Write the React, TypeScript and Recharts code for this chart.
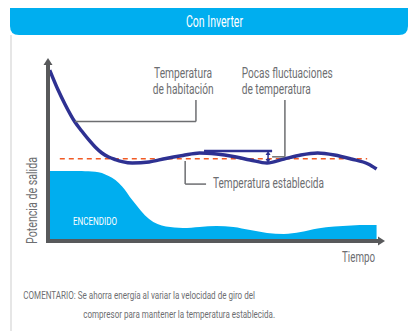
import { ComposedChart, Area, Line, XAxis, YAxis, ReferenceLine } from "recharts";

// time runs 0..100 across the plot, values are 0..100 of the plot height
const time = [0.5, 3, 5, 8, 10, 12, 14, 16, 18, 20, 22, 25, 30, 35, 40, 45, 50, 55, 60, 65, 70, 75, 80, 85, 90, 95, 97.5];
const roomTemp = [93.4, 82.5, 74.9, 65.0, 60.1, 55.5, 51.4, 48.1, 45.9, 44.5, 43.4, 42.6, 43.2, 45.1, 46.7, 48.1, 47.5, 46.2, 44.3, 42.6, 44.8, 47.0, 48.1, 47.0, 44.8, 42.1, 39.3];
const outputPower = [38.3, 38.3, 38.3, 38.3, 38.3, 38.1, 37.9, 37.2, 35.5, 33.3, 29.8, 22.4, 12.0, 7.9, 7.1, 7.7, 8.2, 7.7, 6.0, 4.4, 3.8, 4.9, 6.8, 7.9, 8.5, 8.7, 8.7];
const setTemp = 45;
const setTempRange = [3.5, 94.7];

const data = time.map((t, i) => ({ t, temp: roomTemp[i], power: outputPower[i] }));

const colors = {
    blue: "#00aeef",
    navy: "#2e3192",
    red: "#f15a24",
    axis: "#58595b",
    text: "#6d6e71",
    border: "#e6e6e6"
};

function ArrowLine(p: any) {
    const { x1, y1, x2, y2, stroke, strokeWidth, len, half, both } = p;
    const a = Math.atan2(y2 - y1, x2 - x1);
    const c = Math.cos(a);
    const s = Math.sin(a);
    const tip = (x: number, y: number, dir: number) => {
        const bx = x - dir * len * c;
        const by = y - dir * len * s;
        return `${x},${y} ${bx - half * s},${by + half * c} ${bx + half * s},${by - half * c}`;
    };
    const sx = both ? x1 + len * c : x1;
    const sy = both ? y1 + len * s : y1;
    return (
        <g>
            <line x1={sx} y1={sy} x2={x2 - len * c} y2={y2 - len * s} stroke={stroke} strokeWidth={strokeWidth} strokeLinecap={both ? "butt" : "square"} />
            <polygon points={tip(x2, y2, 1)} fill={stroke} />
            {both && <polygon points={tip(x1, y1, -1)} fill={stroke} />}
        </g>
    );
}

const Txt = ({ x, y, w, size, children, fill = colors.text, rotate = false }: any) => (
    <text
        x={rotate ? -y : x}
        y={rotate ? x : y}
        transform={rotate ? "rotate(-90)" : undefined}
        fontSize={size}
        textLength={w}
        lengthAdjust="spacingAndGlyphs"
        fill={fill}
        fontFamily="Roboto, sans-serif"
    >
        {children}
    </text>
);

export default function App() {
    return (
        <div style={{ position: "absolute", left: 0, top: 0, width: 408, height: 331, background: "#fff" }}>
            <div style={{ position: "absolute", left: 0, top: 0 }}>
                <ComposedChart width={408} height={331} data={data} margin={{ top: 58, right: 23, bottom: 90, left: 48 }}>
                    <XAxis dataKey="t" type="number" domain={[0, 100]} hide />
                    <YAxis type="number" domain={[0, 100]} hide />
                    <Area
                        type="monotone"
                        dataKey="power"
                        stroke="none"
                        fill={colors.blue}
                        fillOpacity={1}
                        baseValue={0}
                        isAnimationActive={false}
                    />
                    <ReferenceLine
                        segment={[{ x: setTempRange[0], y: setTemp }, { x: setTempRange[1], y: setTemp }]}
                        stroke={colors.red}
                        strokeWidth={1.5}
                        strokeDasharray="5 4"
                    />
                    <Line
                        type="monotone"
                        dataKey="temp"
                        stroke={colors.navy}
                        strokeWidth={3.5}
                        dot={false}
                        activeDot={false}
                        isAnimationActive={false}
                    />
                    {/* axes with arrow heads */}
                    <ReferenceLine
                        segment={[{ x: 0, y: 0 }, { x: 0, y: 100 }]}
                        stroke={colors.axis}
                        strokeWidth={4}
                        shape={(p: any) => <ArrowLine {...p} stroke={colors.axis} strokeWidth={4} len={7} half={4.5} />}
                    />
                    <ReferenceLine
                        segment={[{ x: 0, y: 0 }, { x: 100, y: 0 }]}
                        stroke={colors.axis}
                        strokeWidth={4}
                        shape={(p: any) => <ArrowLine {...p} stroke={colors.axis} strokeWidth={4} len={7} half={4.5} />}
                    />
                    {/* leader lines */}
                    <ReferenceLine segment={[{ x: 43.9, y: 77 }, { x: 43.9, y: 65.3 }]} stroke={colors.text} strokeWidth={1.5} />
                    <ReferenceLine segment={[{ x: 43.9, y: 65.3 }, { x: 8, y: 65.3 }]} stroke={colors.text} strokeWidth={1.5} />
                    <ReferenceLine segment={[{ x: 70.3, y: 77 }, { x: 70.3, y: 46 }]} stroke={colors.text} strokeWidth={1.5} />
                    <ReferenceLine segment={[{ x: 70.3, y: 46 }, { x: 66.5, y: 46 }]} stroke={colors.text} strokeWidth={1.5} />
                    <ReferenceLine segment={[{ x: 40.7, y: 43.7 }, { x: 40.7, y: 31.1 }]} stroke={colors.text} strokeWidth={1.5} />
                    <ReferenceLine segment={[{ x: 40.7, y: 31.1 }, { x: 46.9, y: 31.1 }]} stroke={colors.text} strokeWidth={1.5} />
                    {/* fluctuation bracket */}
                    <ReferenceLine segment={[{ x: 46.3, y: 49.2 }, { x: 66.5, y: 49.2 }]} stroke={colors.navy} strokeWidth={2.5} />
                    <ReferenceLine
                        segment={[{ x: 65.3, y: 49.2 }, { x: 65.3, y: 42.6 }]}
                        stroke={colors.navy}
                        strokeWidth={1.5}
                        shape={(p: any) => <ArrowLine {...p} stroke={colors.navy} strokeWidth={1.5} len={4} half={2.5} both />}
                    />
                </ComposedChart>
            </div>
            <svg width={408} height={331} style={{ position: "absolute", left: 0, top: 0, pointerEvents: "none" }}>
                <line x1={11} y1={35} x2={11} y2={331} stroke={colors.border} strokeWidth={2} />
                <path d="M10,8 H408 V26 Q408,35 399,35 H19 Q10,35 10,26 Z" fill={colors.blue} />
                <Txt x={186} y={26.5} w={57} size={17} fill="#fff">Con Inverter</Txt>

                <Txt x={154} y={78.3} w={58} size={14}>Temperatura</Txt>
                <Txt x={152.7} y={94.3} w={61} size={14}>de habitación</Txt>
                <Txt x={241.7} y={78.3} w={91} size={14}>Pocas fluctuaciones</Txt>
                <Txt x={241.7} y={94.3} w={69} size={14}>de temperatura</Txt>
                <Txt x={213} y={188} w={111} size={14.5}>Temperatura establecida</Txt>
                <Txt x={73} y={224.5} w={44} size={11} fill="#fff">ENCENDIDO</Txt>
                <Txt x={342} y={261.7} w={33} size={14}>Tiempo</Txt>
                <Txt x={36.5} y={244} w={87} size={15} rotate>Potencia de salida</Txt>

                <Txt x={23.3} y={299} w={231.7} size={11}>COMENTARIO: Se ahorra energía al variar la velocidad de giro del</Txt>
                <Txt x={83.3} y={318.3} w={191.7} size={11}>compresor para mantener la temperatura establecida.</Txt>
            </svg>
        </div>
    );
}
